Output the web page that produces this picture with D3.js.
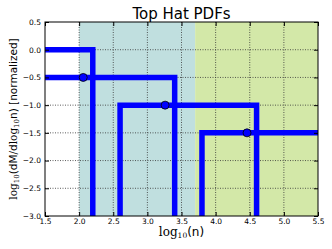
<!DOCTYPE html>
<html>
  <head>
    <meta charset="utf-8">
    <script src="https://d3js.org/d3.v7.min.js"></script>
    <style>
      body { margin: 0; background: white; }
      text { font-family: "DejaVu Sans", sans-serif; }
    </style>
  </head>
  <body>
    <svg id="chart"></svg>
    <script>
      // top hat pdfs
      const hatLeft = [0.2, 1.4, 2.6, 3.8];
      const hatRight = [2.2, 3.4, 4.6, 5.8];
      const hatLevel = [0.0, -0.5, -1.0, -1.5];
      const pointX = [2.06, 3.26, 4.46];
      const pointY = [-0.5, -1.0, -1.5];
      // shaded bands
      const bandStart = [2.0, 3.7];
      const bandEnd = [3.7, 5.5];
      const bandColor = ["#c0dfdf", "#d3e8a8"];
      const xTicks = [1.5, 2.0, 2.5, 3.0, 3.5, 4.0, 4.5, 5.0, 5.5];
      const yTicks = [0.5, 0.0, -0.5, -1.0, -1.5, -2.0, -2.5, -3.0];

      const width = 332, height = 249;
      const pLeft = 45, pRight = 318, pTop = 22, pBottom = 216;

      const svg = d3.select("#chart").attr("width", width).attr("height", height);

      const x = d3.scaleLinear([1.5, 5.5], [pLeft, pRight]);
      const y = d3.scaleLinear([-3.0, 0.5], [pBottom, pTop]);

      svg.append("clipPath").attr("id", "clip")
        .append("rect")
        .attr("x", pLeft).attr("y", pTop)
        .attr("width", pRight - pLeft).attr("height", pBottom - pTop);

      // bands
      svg.selectAll(".band")
        .data(bandStart)
        .enter()
        .append("rect")
        .attr("class", "band")
        .attr("x", d => x(d))
        .attr("y", pTop)
        .attr("width", (d, i) => x(bandEnd[i]) - x(d))
        .attr("height", pBottom - pTop)
        .attr("fill", (d, i) => bandColor[i]);

      // grid
      const grid = svg.append("g").attr("stroke", "#333").attr("stroke-width", 0.8)
        .attr("stroke-dasharray", "1,1.5");
      grid.selectAll(".gx").data(xTicks.slice(1, -1)).enter()
        .append("line")
        .attr("x1", d => x(d)).attr("x2", d => x(d))
        .attr("y1", pTop).attr("y2", pBottom);
      grid.selectAll(".gy").data(yTicks.slice(1, -1)).enter()
        .append("line")
        .attr("y1", d => y(d)).attr("y2", d => y(d))
        .attr("x1", pLeft).attr("x2", pRight);

      // hats
      const line = d3.line().x(d => x(d[0])).y(d => y(d[1]));
      const plot = svg.append("g").attr("clip-path", "url(#clip)");
      plot.selectAll(".hat")
        .data(hatLevel)
        .enter()
        .append("path")
        .attr("class", "hat")
        .attr("d", (d, i) => line([
          [hatLeft[i], -3.5], [hatLeft[i], d], [hatRight[i], d], [hatRight[i], -3.5]
        ]))
        .attr("fill", "none")
        .attr("stroke", "#0000ff")
        .attr("stroke-width", 5.5)
        .attr("stroke-linejoin", "miter");

      plot.selectAll(".pt")
        .data(pointX)
        .enter()
        .append("circle")
        .attr("cx", d => x(d))
        .attr("cy", (d, i) => y(pointY[i]))
        .attr("r", 4)
        .attr("fill", "#0000ff")
        .attr("stroke", "black")
        .attr("stroke-width", 0.8);

      // axes with inward ticks
      const gx = svg.append("g").attr("transform", `translate(0,${pBottom})`)
        .call(d3.axisBottom(x).tickValues(xTicks).tickSizeInner(-4).tickSizeOuter(0)
          .tickPadding(3).tickFormat(d3.format(".1f")));
      const gxt = svg.append("g").attr("transform", `translate(0,${pTop})`)
        .call(d3.axisTop(x).tickValues(xTicks).tickSizeInner(-4).tickSizeOuter(0)
          .tickFormat(""));
      const gy = svg.append("g").attr("transform", `translate(${pLeft},0)`)
        .call(d3.axisLeft(y).tickValues(yTicks).tickSizeInner(-4).tickSizeOuter(0)
          .tickPadding(4).tickFormat(d3.format(".1f")));
      const gyr = svg.append("g").attr("transform", `translate(${pRight},0)`)
        .call(d3.axisRight(y).tickValues(yTicks).tickSizeInner(-4).tickSizeOuter(0)
          .tickFormat(""));
      [gx, gxt, gy, gyr].forEach(g => {
        g.select(".domain").remove();
        g.selectAll("text").style("font-size", "7.5px").attr("fill", "black");
      });

      svg.append("rect")
        .attr("x", pLeft).attr("y", pTop)
        .attr("width", pRight - pLeft).attr("height", pBottom - pTop)
        .attr("fill", "none").attr("stroke", "black").attr("stroke-width", 1);

      // title
      svg.append("text")
        .attr("x", (pLeft + pRight) / 2).attr("y", 19)
        .attr("text-anchor", "middle")
        .style("font-size", "15px")
        .text("Top Hat PDFs");

      // x label
      const xl = svg.append("text")
        .attr("x", (pLeft + pRight) / 2).attr("y", 236)
        .attr("text-anchor", "middle")
        .style("font-size", "12px");
      xl.append("tspan").style("font-family", "DejaVu Serif").text("log");
      xl.append("tspan").attr("dy", 2).style("font-family", "DejaVu Serif").style("font-size", "7.5px").text("10");
      xl.append("tspan").attr("dy", -2).text("(n)");

      // y label
      const yl = svg.append("text")
        .attr("transform", `translate(17,${(pTop + pBottom) / 2}) rotate(-90)`)
        .attr("text-anchor", "middle")
        .style("font-size", "10.5px");
      yl.append("tspan").style("font-family", "DejaVu Serif").text("log");
      yl.append("tspan").attr("dy", 2).style("font-family", "DejaVu Serif").style("font-size", "7px").text("10");
      yl.append("tspan").attr("dy", -2).text("(dM/d");
      yl.append("tspan").style("font-family", "DejaVu Serif").text("log");
      yl.append("tspan").attr("dy", 2).style("font-family", "DejaVu Serif").style("font-size", "7px").text("10");
      yl.append("tspan").attr("dy", -2).text("n) [normalized]");
    </script>
  </body>
</html>
